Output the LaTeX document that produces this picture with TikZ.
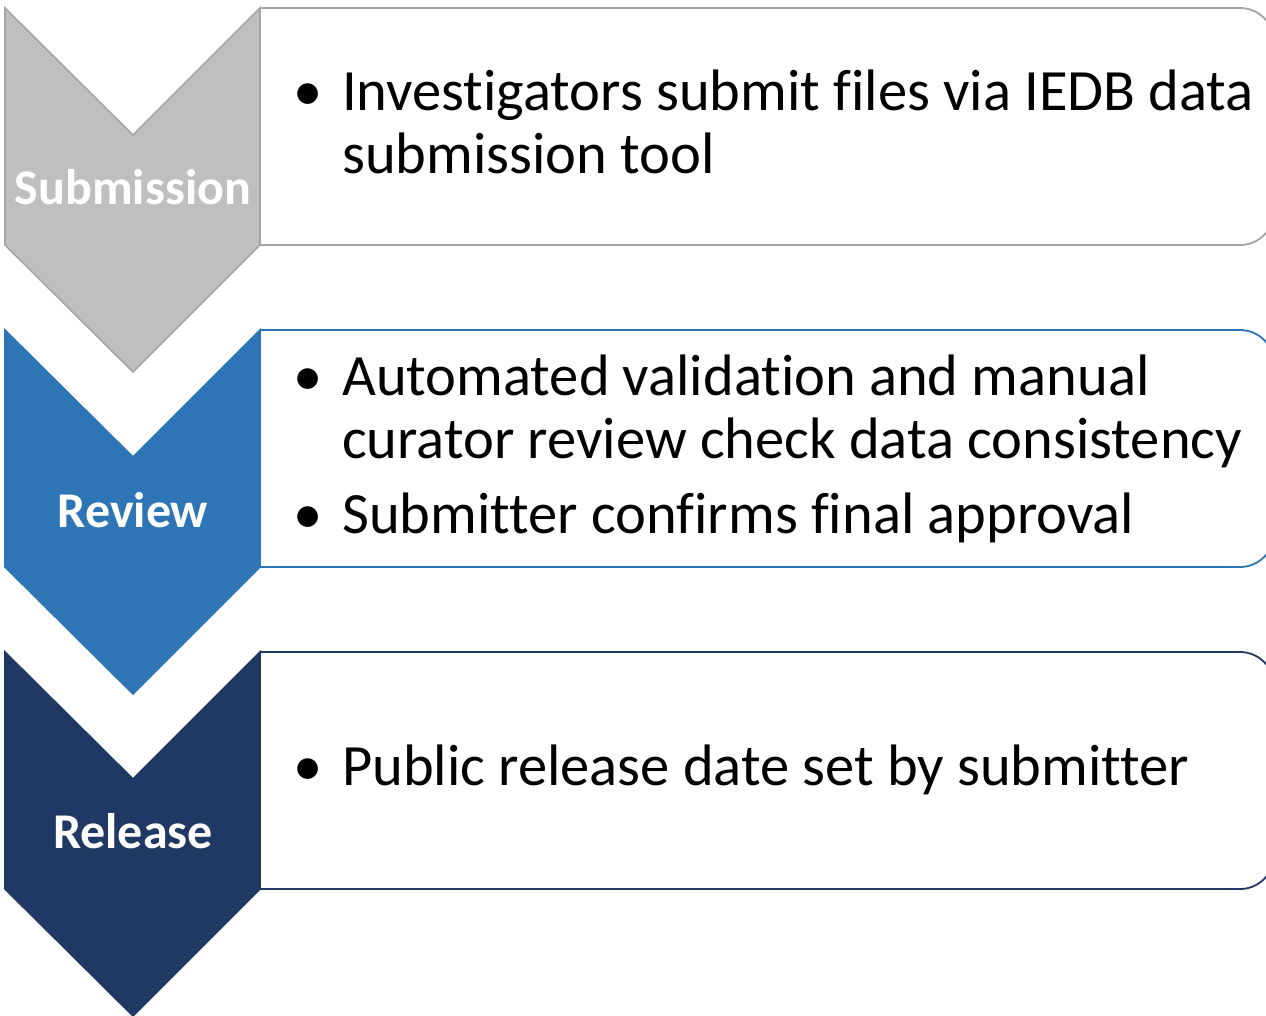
\documentclass[tikz,border=0pt]{standalone}
\usepackage{fontspec}
\setmainfont{Carlito}[Ligatures=NoCommon]
\usetikzlibrary{positioning}
\definecolor{StageGray}{HTML}{BFBFBF}
\definecolor{EdgeGray}{HTML}{A5A5A5}
\definecolor{StageBlue}{HTML}{2E75B6}
\definecolor{StageNavy}{HTML}{203864}
\tikzset{
 chev/.style={line width=1.6pt,line join=miter},
 panel/.style={line width=1.8pt,fill=white},
 stagelabel/.style={anchor=base,text=white,font=\fontsize{50}{60}\selectfont\bfseries,inner sep=0pt},
 bul/.style={anchor=base,font=\fontsize{58.5}{63}\selectfont,inner sep=0pt},
 itemtext/.style={anchor=base west,align=left,font=\fontsize{58.5}{63}\selectfont,inner sep=0pt}
}
\begin{document}
\begin{tikzpicture}[x=1pt,y=-1pt]
\useasboundingbox (0,0) rectangle (1266,1015);
% panels behind the chevrons
\foreach \y/\ln in {8/EdgeGray,330/StageBlue,652/StageNavy}
 \draw[panel,draw=\ln] (260,\y) -- (1240,\y) arc[start angle=-90,end angle=0,radius=34]
  -- (1274,\y+203) arc[start angle=0,end angle=90,radius=34] -- (260,\y+237);
% chevrons
\foreach \y/\fc/\ln in {8/StageGray/EdgeGray,330/StageBlue/StageBlue,652/StageNavy/StageNavy}
 \draw[chev,fill=\fc,draw=\ln] (5,\y) -- (133,\y+127) -- (260,\y) -- (260,\y+237)
  -- (133,\y+364) -- (5,\y+237) -- cycle;
\node[stagelabel] (sub) at (133,204) {Submission};
\node[stagelabel] (rev) at (133,527) {Review};
\node[stagelabel] (rel) at (133,848) {Release};
% bullet points (base of a two-line node is its last line)
\node[bul] (b1) at (308,110) {•};
\node[itemtext] (t1) at (342,173) {Investigators submit files via IEDB data\\submission tool};
\node[bul] (b2) at (308,395) {•};
\node[itemtext] (t2) at (342,458) {Automated validation and manual\\curator review check data consistency};
\node[bul] (b3) at (308,533) {•};
\node[itemtext] (t3) at (342,533) {Submitter confirms final approval};
\node[bul] (b4) at (308,785) {•};
\node[itemtext] (t4) at (342,785) {Public release date set by submitter};
\end{tikzpicture}
\end{document}
